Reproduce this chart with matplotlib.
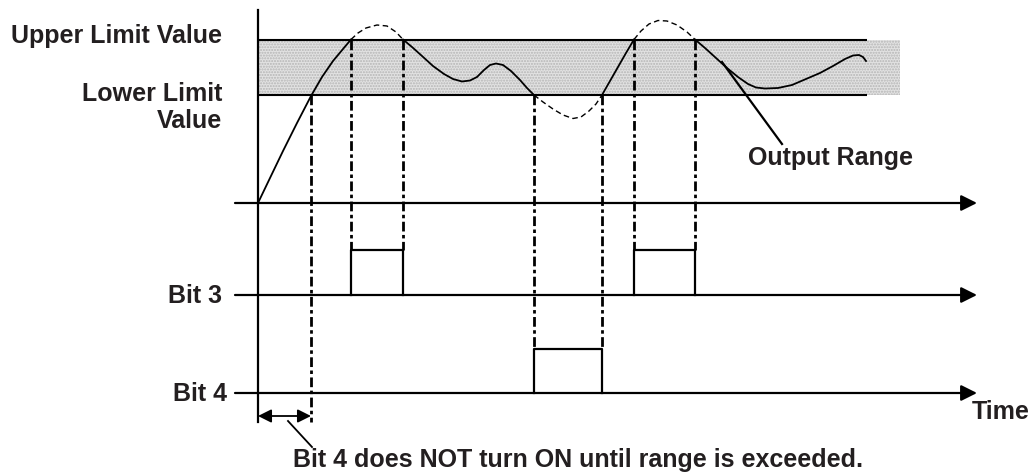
# Comparator output timing diagram (upper / lower limit window)

import matplotlib.pyplot as plt

plt.rcParams['lines.scale_dashes'] = False
plt.rcParams['font.family'] = ['Liberation Sans', 'DejaVu Sans']

# Signal levels (pixel-like units, y grows downward)
upper_limit = 39.5
lower_limit = 95
analog_base = 203
bit3_base, bit3_high = 295, 250
bit4_base, bit4_high = 393, 349

# Analog signal, solid parts (inside range / rising) and dashed parts (outside range)
rise_t = [258, 270, 283, 297, 311, 322, 333, 343, 351]
rise_v = [203, 178, 151, 123, 96, 77, 61, 49, 39.5]
peak1_t = [351, 358, 366, 377, 387, 396, 403]
peak1_v = [39.5, 33, 28, 25, 26, 32, 39.5]
fall1_t = [403, 412, 422, 433, 444, 453, 462, 470, 477, 484, 490, 496, 503, 511, 520, 527, 534]
fall1_v = [39.5, 47, 56, 66, 74, 79, 81.5, 80.5, 77, 70, 65, 63.5, 65, 71, 80, 88, 95]
dip_t = [534, 543, 553, 563, 573, 581, 589, 596, 602]
dip_v = [95, 102, 109, 115, 118.5, 117, 111, 104, 95]
rise2_t = [602, 610, 618, 626, 634]
rise2_v = [95, 81, 67, 53, 39.5]
peak2_t = [634, 641, 649, 658, 667, 677, 687, 695]
peak2_v = [39.5, 31, 24, 20.5, 21, 25, 32, 39.5]
tail_t = [695, 705, 716, 727, 738, 748, 756, 765, 778, 792, 806, 820, 833, 845, 853, 859, 863, 866]
tail_v = [39.5, 48, 58, 68, 77, 84, 87.5, 88.5, 88, 85, 79, 73, 66, 59, 55.5, 55, 57, 61]

# Switching instants
bit3_on = [(351, 403), (634, 695)]
bit4_on = [(534, 602)]
cross_t = [311, 351, 403, 534, 602, 634, 695]
cross_top = [95, 39.5, 39.5, 95, 95, 39.5, 39.5]
cross_bottom = [422, 250, 250, 349, 349, 250, 250]

ink = 'black'
txt = '#231f20'

fig = plt.figure(figsize=(10.32, 4.75), dpi=100)
ax = fig.add_axes([0, 0, 1, 1])
ax.set_xlim(0, 1032)
ax.set_ylim(475, 0)
ax.axis('off')

# output range band
ax.fill_between([258, 900], upper_limit, lower_limit, facecolor='#e2e2e2',
                edgecolor='#b5b5b5', hatch='......', lw=0, zorder=1)
ax.hlines([upper_limit, lower_limit], 258, 867, color=ink, lw=1.5, zorder=3)

# vertical axis
ax.plot([258, 258], [10, 422], color=ink, lw=1.6, zorder=4)

# time axes with arrow heads
for y in [analog_base, bit3_base, bit4_base]:
    ax.annotate('', xy=(977, y), xytext=(235, y),
                arrowprops=dict(arrowstyle='-|>', color=ink, lw=1.6,
                                mutation_scale=24, shrinkA=0, shrinkB=0))

# analog curve
for t, v in [(rise_t, rise_v), (fall1_t, fall1_v), (rise2_t, rise2_v), (tail_t, tail_v)]:
    ax.plot(t, v, color=ink, lw=1.3, solid_joinstyle='round', zorder=5)
for t, v in [(peak1_t, peak1_v), (dip_t, dip_v), (peak2_t, peak2_v)]:
    ax.plot(t, v, color=ink, lw=1.0, ls=(0, (4, 2.5)), zorder=5)

# dash-dot guide lines
for t, y0, y1 in zip(cross_t, cross_top, cross_bottom):
    ax.plot([t, t], [y0, y1], color=ink, lw=2.0, ls=(0, (7, 2.5, 2.5, 2.5)), zorder=4)

# bit pulses
for t0, t1 in bit3_on:
    ax.plot([t0, t0, t1, t1], [bit3_base, bit3_high, bit3_high, bit3_base],
            color=ink, lw=1.6, zorder=5)
for t0, t1 in bit4_on:
    ax.plot([t0, t0, t1, t1], [bit4_base, bit4_high, bit4_high, bit4_base],
            color=ink, lw=1.6, zorder=5)

# delay marker below Bit 4
ax.annotate('', xy=(311, 416), xytext=(258, 416),
            arrowprops=dict(arrowstyle='<|-|>', color=ink, lw=1.3,
                            mutation_scale=20, shrinkA=0, shrinkB=0))
ax.plot([288, 312], [421, 447], color=ink, lw=1.3)

# output range pointer
ax.plot([722, 782], [62, 144], color=ink, lw=1.6, zorder=5)

fs = 18
kw = dict(color=txt, fontsize=fs, fontweight='bold', va='center')
ax.text(222, 36, 'Upper Limit Value', ha='right', **kw)
ax.text(222, 94, 'Lower Limit', ha='right', **kw)
ax.text(222, 121, 'Value', ha='right', **kw)
ax.text(222, 296, 'Bit 3', ha='right', **kw)
ax.text(227, 394, 'Bit 4', ha='right', **kw)
ax.text(1030, 412, 'Time', ha='right', **kw)
ax.text(831, 158, 'Output Range', ha='center', **kw)
ax.text(293, 460, 'Bit 4 does NOT turn ON until range is exceeded.', ha='left', **kw)

plt.savefig('out.png', dpi=100)
